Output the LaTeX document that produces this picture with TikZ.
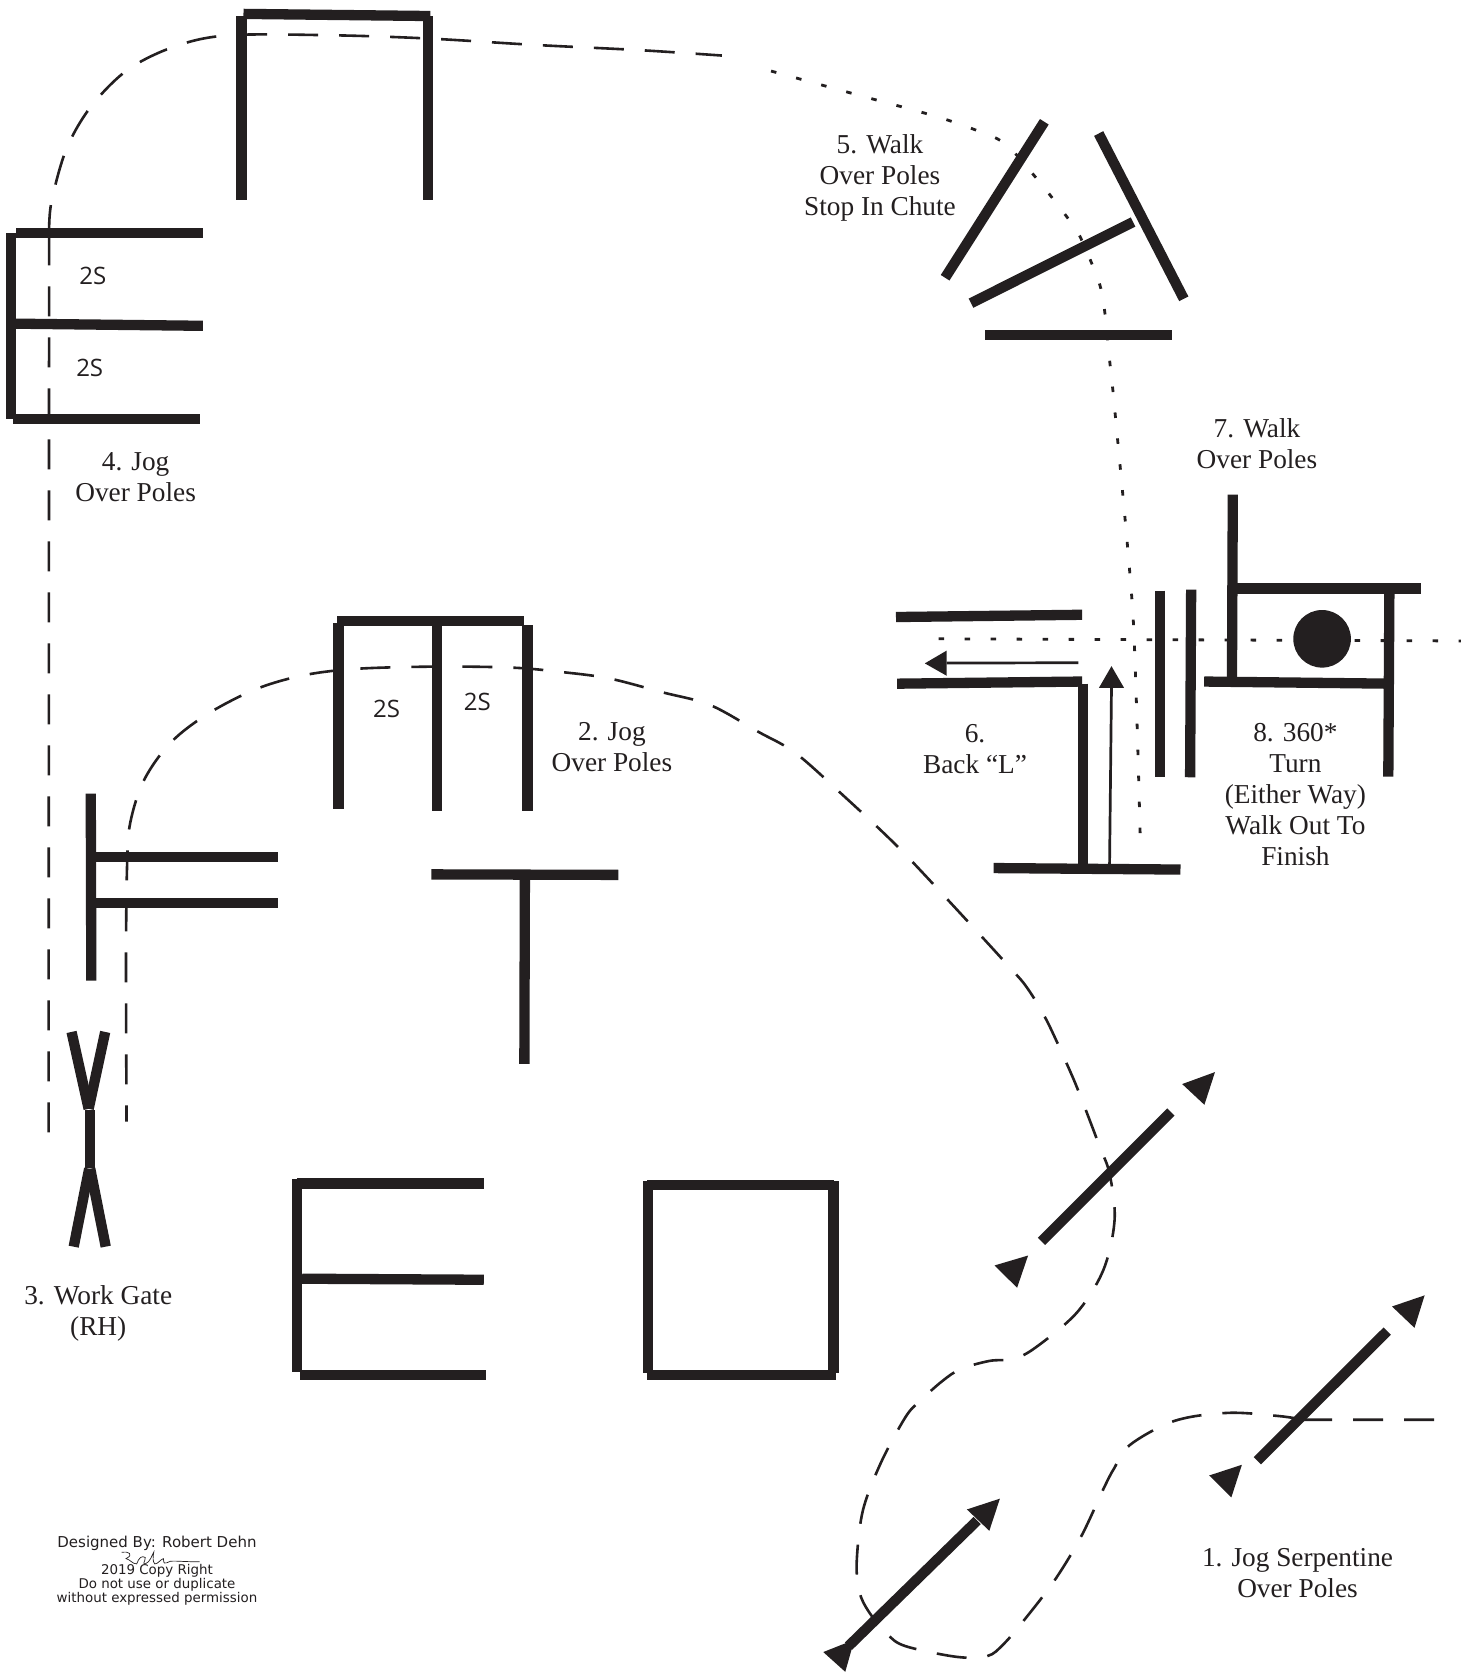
\documentclass[tikz,border=0pt]{standalone}
\usepackage{fontspec}
\setmainfont{Liberation Serif}
\newfontfamily\labelsans{Open Sans}
\newfontfamily\creditsans{DejaVu Sans}
\definecolor{ink}{HTML}{231F20}
\tikzset{
  pole/.style={draw=ink,line width=10.3pt},
  routedash/.style={draw=ink,line width=2.6pt,dash pattern=on 30pt off 21pt},
  routedot/.style={draw=ink,line width=2.8pt,dash pattern=on 5.5pt off 20.5pt},
  thinstick/.style={draw=ink,line width=2.7pt},
  head/.style={fill=ink,draw=none},
  caption/.style={align=center,text=ink,inner sep=0pt,font=\fontsize{27.3}{31}\selectfont},
  twos/.style={text=ink,inner sep=0pt,font=\labelsans\fontsize{24}{26}\selectfont},
  credit/.style={align=center,text=ink,inner sep=0pt,font=\creditsans\fontsize{13.4}{13.8}\selectfont},
  creditbig/.style={text=ink,inner sep=0pt,font=\creditsans\fontsize{15}{16}\selectfont}
}
\begin{document}
\begin{tikzpicture}[x=1.06792pt,y=-1.06824pt]
\useasboundingbox (0,0) rectangle (1384,1568);
\fill[white] (0,0) rectangle (1384,1568);
% routes
\draw[routedash] (1343,1329) -- (1220,1329) plot[smooth,tension=0.55] coordinates {(1220,1329) (1197.7,1325.6) (1149.9,1322.6) (1100.2,1330) (1058.2,1352.5) (1043,1375) (1033.4,1393.5) (1012.4,1438.3) (987.5,1479.4) (958.9,1516.7) (939.8,1539) (924.5,1550.3) (895.8,1551) (848,1541) (830.8,1529.7) (813.7,1509) (804.9,1490.6) (802.2,1462.6) (808,1414) (825,1369) (848,1326.4) (861.4,1311.5) (882.4,1292.8) (899.6,1281.6) (926.4,1274) (949.3,1272) (970.3,1261) (1008.5,1228.6) (1033.4,1188.3) (1043.7,1141.7) (1039,1098.8) (1029.5,1072.7) (1012.4,1027.9) (1001.6,1001.8) (980,955) (962,925) (945,905) (890,845) (840,792) (790,745) (745,705) (710,685) (665,660) (620,648) (570,635) (525,629) (480,625) (410,624) (335,626) (285,632) (240,645) (195,668) (160,695) (135,730) (122,770) (119,810) (118,900) (118.5,1050)};
\draw[routedash] (45.5,1060) -- (46,220) plot[smooth,tension=0.55] coordinates {(46,220) (48,190) (62,140) (85,100) (120,65) (165,43) (215,33) (310,33) (400,36) (500,42) (600,47) (676,52)};
\draw[routedot] plot[smooth,tension=0.4] coordinates {(722,66.5) (800,88) (880,110) (932,129) (950,143) (982,181) (1010,219) (1029,264) (1034,288) (1039,337) (1044,385) (1061,577) (1068,795)};
\draw[routedot] (879,598) -- (1368,600);
% top chute
\draw[pole] (226,187) -- (226,15);
\draw[pole] (228,13) -- (403,15);
\draw[pole] (401,15) -- (401,187);
% left E
\draw[pole] (15,218) -- (190,218);
\draw[pole] (10,218) -- (10,392);
\draw[pole] (15,303) -- (190,305);
\draw[pole] (12,392.5) -- (187,392.5);
% middle M
\draw[pole] (317,757) -- (317,583);
\draw[pole] (316,581) -- (491,581);
\draw[pole] (409,759) -- (409,585);
\draw[pole] (494,759) -- (494,585);
% F
\draw[pole] (85,743) -- (85.5,918);
\draw[pole] (90,802) -- (260,802);
\draw[pole] (90,845) -- (260,845);
% T
\draw[pole] (404,818.5) -- (579,819);
\draw[pole] (491.5,823) -- (491,996);
% gate
\draw[pole] (67,966) -- (83,1038);
\draw[pole] (98.5,966) -- (83,1038);
\draw[pole] (84,1039.5) -- (84,1093);
\draw[pole] (83.5,1094) -- (69,1167);
\draw[pole] (84.5,1094) -- (99,1167);
% E
\draw[pole] (278,1104) -- (278,1284);
\draw[pole] (278,1108) -- (453,1108);
\draw[pole] (283,1197) -- (453,1198);
\draw[pole] (281,1287) -- (455,1287);
% square
\draw[pole] (606.5,1106) -- (606.5,1285);
\draw[pole] (606,1109) -- (781,1109);
\draw[pole] (780.5,1106) -- (780.5,1285);
\draw[pole] (606,1287) -- (783,1287);
% triangle
\draw[pole] (977.9,114) -- (885,260);
\draw[pole] (1028.8,125) -- (1108.5,279.7);
\draw[pole] (1061,207.8) -- (909.2,283.8);
\draw[pole] (922.6,313.8) -- (1097.9,313.8);
% L
\draw[pole] (839,577.6) -- (1013.3,575.5);
\draw[pole] (840,640) -- (1013.3,638);
\draw[pole] (1014,640) -- (1014,810);
\draw[pole] (930.4,812.6) -- (1105.4,814);
\draw[pole] (1086.5,553) -- (1086.5,727.6);
\draw[pole] (1115.4,552) -- (1114.4,727.6);
\draw[pole] (1154.4,463) -- (1153.6,635.4);
\draw[pole] (1157.9,551) -- (1331,551);
\draw[pole] (1127.6,638) -- (1302.6,640);
\draw[pole] (1301,555.7) -- (1300,727);
% finish marker
\fill[ink] (1238,598) circle[radius=28.8pt];
% thin arrows
\draw[thinstick] (1009.7,620.4) -- (886.5,620.7);
\fill[head] (866,621) -- (886.5,609) -- (886.5,632.6) -- cycle;
\draw[thinstick] (1039,809) -- (1040.8,643);
\fill[head] (1040.8,623.6) -- (1052.6,644) -- (1029,644) -- cycle;
% diagonal poles
\draw[pole] (1096.4,1041) -- (975.3,1162);
\fill[head] (1137.7,1003.6) -- (1107,1014.8) -- (1127.8,1034.2) -- cycle;
\fill[head] (931.3,1184.6) -- (962.7,1175.3) -- (952.4,1205.5) -- cycle;
\draw[pole] (1299,1246) -- (1177.4,1367.4);
\fill[head] (1334,1212.6) -- (1303.5,1223) -- (1324.5,1243) -- cycle;
\fill[head] (1132.3,1381.2) -- (1162.9,1371.2) -- (1153,1401.8) -- cycle;
\draw[pole] (915,1423.4) -- (794.5,1541);
\fill[head] (936.3,1402.9) -- (905.4,1413) -- (926.4,1433) -- cycle;
\fill[head] (770.9,1546.5) -- (800,1535) -- (791.5,1565) -- cycle;
% captions
\node[caption] (cap5) at (824,167) {5. Walk\\Over Poles\\Stop In Chute};
\node[caption] (cap7) at (1177,415) {7. Walk\\Over Poles};
\node[caption] (cap6) at (913,701) {6.\\Back “L”};
\node[caption] (cap8) at (1213,744) {8. 360*\\Turn\\(Either Way)\\Walk Out To\\Finish};
\node[caption] (cap2) at (573,699) {2. Jog\\Over Poles};
\node[caption] (cap4) at (127,447) {4. Jog\\Over Poles};
\node[caption] (cap3) at (92,1229.5) {3. Work Gate\\(RH)};
\node[caption] (cap1) at (1215,1473) {1. Jog Serpentine\\Over Poles};
\node[twos] (sa) at (87,258) {2S};
\node[twos] (sb) at (84,344) {2S};
\node[twos] (sc) at (362,664) {2S};
\node[twos] (sd) at (447,657) {2S};
\node[creditbig] (designer) at (147,1445) {Designed By: Robert Dehn};
\node[credit] (rights) at (147,1483.5) {2019 Copy Right\\Do not use or duplicate\\without expressed permission};
% signature
\draw[ink,line width=0.7pt] (114,1453) .. controls (120,1452) and (126,1455) .. (118,1459) .. controls (122,1460) and (124,1464) .. (128,1464) .. controls (130,1458) and (133,1456) .. (136,1458) .. controls (136,1462) and (133,1464) .. (136,1464) .. controls (141,1462) and (142,1456) .. (144,1453) .. controls (143,1458) and (143,1462) .. (145,1464) .. controls (148,1464) and (150,1460) .. (153,1459) .. controls (154,1461) and (152,1464) .. (156,1463) .. controls (160,1460) and (165,1462) .. (187,1462);
\end{tikzpicture}
\end{document}
